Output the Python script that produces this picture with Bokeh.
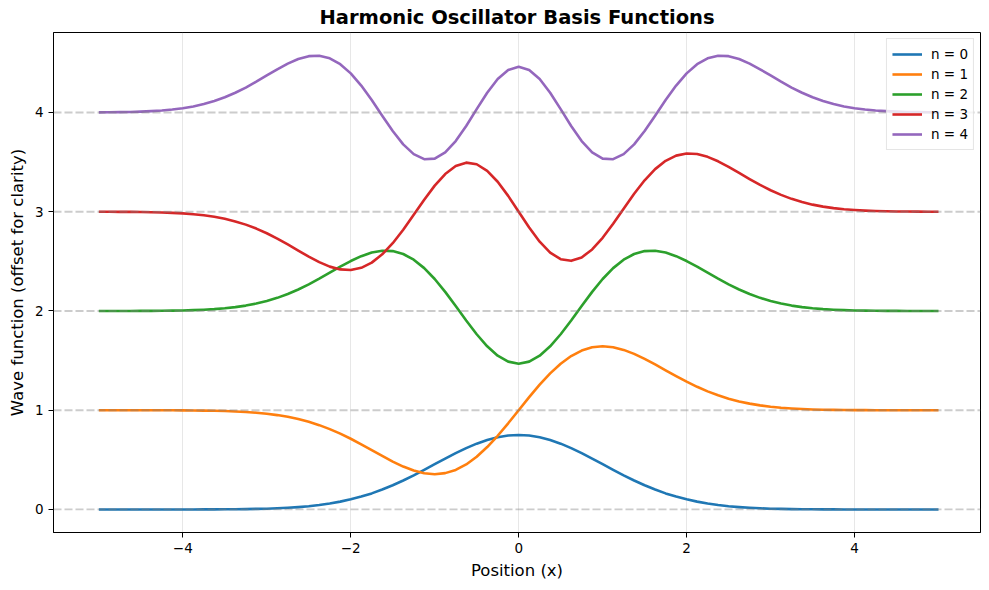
from bokeh.plotting import figure
from bokeh.models import Span, Legend, LegendItem, Range1d, FixedTicker
from bokeh.embed import file_html
from bokeh.resources import INLINE

x = [-5.0, -4.875, -4.75, -4.625, -4.5, -4.375, -4.25, -4.125, -4.0, -3.875, -3.75, -3.625, -3.5, -3.375,
     -3.25, -3.125, -3.0, -2.875, -2.75, -2.625, -2.5, -2.375, -2.25, -2.125, -2.0, -1.875, -1.75, -1.625,
     -1.5, -1.375, -1.25, -1.125, -1.0, -0.875, -0.75, -0.625, -0.5, -0.375, -0.25, -0.125,
     0.0,
     0.125, 0.25, 0.375, 0.5, 0.625, 0.75, 0.875, 1.0, 1.125, 1.25, 1.375, 1.5, 1.625, 1.75, 1.875, 2.0,
     2.125, 2.25, 2.375, 2.5, 2.625, 2.75, 2.875, 3.0, 3.125, 3.25, 3.375, 3.5, 3.625, 3.75, 3.875, 4.0,
     4.125, 4.25, 4.375, 4.5, 4.625, 4.75, 4.875, 5.0]

psi0 = ([0.000, 0.000, 0.000, 0.000, 0.000, 0.000, 0.000, 0.000, 0.000, 0.000, 0.001, 0.001, 0.002, 0.003,
         0.004, 0.006, 0.008, 0.012, 0.017, 0.024, 0.033, 0.045, 0.060, 0.079, 0.102, 0.130, 0.162, 0.201,
         0.244, 0.292, 0.344, 0.399, 0.456, 0.512, 0.567, 0.618, 0.663, 0.700, 0.728, 0.745]
        + [0.751]
        + [0.745, 0.728, 0.700, 0.663, 0.618, 0.567, 0.512, 0.456, 0.399, 0.344, 0.292, 0.244, 0.201, 0.162,
           0.130, 0.102, 0.079, 0.060, 0.045, 0.033, 0.024, 0.017, 0.012, 0.008, 0.006, 0.004, 0.003, 0.002,
           0.001, 0.001, 0.000, 0.000, 0.000, 0.000, 0.000, 0.000, 0.000, 0.000, 0.000, 0.000])

psi1 = ([0.0000, 0.0000, -0.0001, -0.0001, -0.0002, -0.0003, -0.0005, -0.0009, -0.0014, -0.0023, -0.0035,
         -0.0054, -0.0081, -0.0121, -0.0176, -0.0251, -0.0354, -0.0490, -0.0666, -0.0889, -0.1167, -0.1503,
         -0.1901, -0.2361, -0.2875, -0.3434, -0.4020, -0.4610, -0.5173, -0.5675, -0.6079, -0.6347, -0.6443,
         -0.6338, -0.6013, -0.5461, -0.4687, -0.3713, -0.2574, -0.1317]
        + [0.0000]
        + [0.1317, 0.2574, 0.3713, 0.4687, 0.5461, 0.6013, 0.6338, 0.6443, 0.6347, 0.6079, 0.5675, 0.5173,
           0.4610, 0.4020, 0.3434, 0.2875, 0.2361, 0.1901, 0.1503, 0.1167, 0.0889, 0.0666, 0.0490, 0.0354,
           0.0251, 0.0176, 0.0121, 0.0081, 0.0054, 0.0035, 0.0023, 0.0014, 0.0009, 0.0005, 0.0003, 0.0002,
           0.0001, 0.0001, 0.0000, 0.0000])

psi2 = ([0.0001, 0.0002, 0.0003, 0.0005, 0.0008, 0.0014, 0.0022, 0.0035, 0.0055, 0.0085, 0.0127, 0.0188,
         0.0273, 0.0389, 0.0543, 0.0746, 0.1003, 0.1323, 0.1710, 0.2165, 0.2684, 0.3254, 0.3856, 0.4461,
         0.5031, 0.5523, 0.5887, 0.6072, 0.6035, 0.5740, 0.5167, 0.4319, 0.3221, 0.1924, 0.0501, -0.0956,
         -0.2343, -0.3558, -0.4504, -0.5105]
        + [-0.5311]
        + [-0.5105, -0.4504, -0.3558, -0.2343, -0.0956, 0.0501, 0.1924, 0.3221, 0.4319, 0.5167, 0.5740,
           0.6035, 0.6072, 0.5887, 0.5523, 0.5031, 0.4461, 0.3856, 0.3254, 0.2684, 0.2165, 0.1710, 0.1323,
           0.1003, 0.0746, 0.0543, 0.0389, 0.0273, 0.0188, 0.0127, 0.0085, 0.0055, 0.0035, 0.0022, 0.0014,
           0.0008, 0.0005, 0.0003, 0.0002, 0.0001])

psi3 = ([-0.0004, -0.0006, -0.0011, -0.0018, -0.0029, -0.0047, -0.0073, -0.0112, -0.0169, -0.0249, -0.0361,
         -0.0513, -0.0714, -0.0973, -0.1299, -0.1697, -0.2168, -0.2706, -0.3295, -0.3914, -0.4526, -0.5082,
         -0.5531, -0.5812, -0.5869, -0.5652, -0.5129, -0.4293, -0.3168, -0.1810, -0.0311, 0.1214, 0.2630,
         0.3800, 0.4603, 0.4946, 0.4783, 0.4121, 0.3021, 0.1597]
        + [0.0000]
        + [-0.1597, -0.3021, -0.4121, -0.4783, -0.4946, -0.4603, -0.3800, -0.2630, -0.1214, 0.0311, 0.1810,
           0.3168, 0.4293, 0.5129, 0.5652, 0.5869, 0.5812, 0.5531, 0.5082, 0.4526, 0.3914, 0.3295, 0.2706,
           0.2168, 0.1697, 0.1299, 0.0973, 0.0714, 0.0513, 0.0361, 0.0249, 0.0169, 0.0112, 0.0073, 0.0047,
           0.0029, 0.0018, 0.0011, 0.0006, 0.0004])

psi4 = ([0.0013, 0.0021, 0.0034, 0.0055, 0.0086, 0.0133, 0.0201, 0.0296, 0.0429, 0.0610, 0.0847, 0.1152,
         0.1530, 0.1986, 0.2514, 0.3105, 0.3730, 0.4355, 0.4928, 0.5390, 0.5676, 0.5718, 0.5461, 0.4871,
         0.3943, 0.2711, 0.1249, -0.0325, -0.1866, -0.3210, -0.4200, -0.4706, -0.4649, -0.4017, -0.2875,
         -0.1358, 0.0339, 0.1989, 0.3367, 0.4280]
        + [0.4600]
        + [0.4280, 0.3367, 0.1989, 0.0339, -0.1358, -0.2875, -0.4017, -0.4649, -0.4706, -0.4200, -0.3210,
           -0.1866, -0.0325, 0.1249, 0.2711, 0.3943, 0.4871, 0.5461, 0.5718, 0.5676, 0.5390, 0.4928, 0.4355,
           0.3730, 0.3105, 0.2514, 0.1986, 0.1530, 0.1152, 0.0847, 0.0610, 0.0429, 0.0296, 0.0201, 0.0133,
           0.0086, 0.0055, 0.0034, 0.0021, 0.0013])

series = [psi0, psi1, psi2, psi3, psi4]
offsets = [0, 1, 2, 3, 4]
labels = ["n = 0", "n = 1", "n = 2", "n = 3", "n = 4"]
colors = ["#1f77b4", "#ff7f0e", "#2ca02c", "#d62728", "#9467bd"]
x_ticks = [-4, -2, 0, 2, 4]
y_ticks = [0, 1, 2, 3, 4]

FONT = "DejaVu Sans"

p = figure(frame_width=927, frame_height=500, output_backend="svg", toolbar_location=None,
           x_range=Range1d(-5.54, 5.5), y_range=Range1d(-0.232, 4.806),
           min_border_left=10, min_border_right=2, min_border_top=0, min_border_bottom=10)
p.margin = (0, 0, 0, 4)

p.title.text = "Harmonic Oscillator Basis Functions"
p.title.align = "center"
p.title.text_font = FONT
p.title.text_font_size = "19.5px"
p.title.text_font_style = "bold"
p.title.text_color = "black"
p.title.standoff = 7

p.xaxis.axis_label = "Position (x)"
p.yaxis.axis_label = "Wave function (offset for clarity)"
for ax in (p.xaxis, p.yaxis):
    ax.axis_label_text_font = FONT
    ax.axis_label_text_font_size = "16.5px"
    ax.axis_label_text_font_style = "normal"
    ax.axis_label_text_color = "black"
    ax.major_label_text_font = FONT
    ax.major_label_text_font_size = "13.5px"
    ax.major_label_text_color = "black"
    ax.minor_tick_line_color = None
    ax.major_tick_out = 5
    ax.major_tick_in = 0
    ax.axis_line_color = "black"
    ax.major_tick_line_color = "black"
p.xaxis.ticker = FixedTicker(ticks=x_ticks)
p.yaxis.ticker = FixedTicker(ticks=y_ticks)
p.xaxis.major_label_overrides = {t: (str(t) if t >= 0 else "\u2212" + str(-t)) for t in x_ticks}

p.xgrid.grid_line_color = "#b0b0b0"
p.xgrid.grid_line_alpha = 0.3
p.ygrid.grid_line_color = None
p.outline_line_color = "black"
p.outline_line_width = 1
p.outline_line_alpha = 1

items = []
for ys, off, lab, col in zip(series, offsets, labels, colors):
    yv = [v + off for v in ys]
    r = p.line(x, yv, line_color=col, line_width=2.6, line_join="round")
    items.append(LegendItem(label=lab, renderers=[r]))

for off in offsets:
    p.add_layout(Span(location=off, dimension="width", line_color="gray", line_alpha=0.4,
                      line_dash="8 3", line_width=1.8, level="overlay"))

legend = Legend(items=items, location="top_right")
legend.label_text_font = FONT
legend.label_text_font_size = "13.5px"
legend.label_text_color = "black"
legend.border_line_color = "#cccccc"
legend.background_fill_alpha = 0.8
legend.glyph_width = 30
legend.glyph_height = 20
legend.label_height = 20
legend.label_standoff = 9
legend.spacing = 0
legend.padding = 5
legend.margin = 6
p.add_layout(legend)

open("out.html", "w").write(file_html(p, INLINE))
